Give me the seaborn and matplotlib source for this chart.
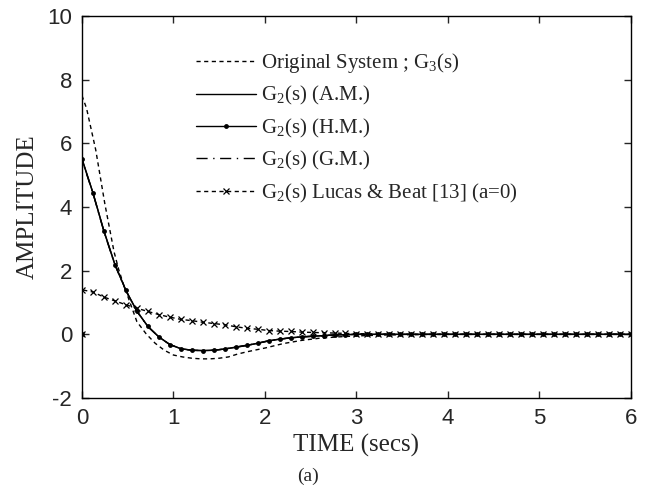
import matplotlib
matplotlib.use('Agg')
import matplotlib.pyplot as plt
import seaborn as sns
import numpy as np

sns.set_style('ticks')
plt.rcParams['font.family'] = ['Liberation Serif', 'DejaVu Serif']
plt.rcParams['mathtext.fontset'] = 'custom'
plt.rcParams['mathtext.rm'] = 'Liberation Serif'
plt.rcParams['mathtext.it'] = 'Liberation Serif:italic'
plt.rcParams['axes.unicode_minus'] = False

# time grid of the reduced models (markers every 0.12 s), leading (0, 0) sample
t_red = [0.0, 0.0, 0.12, 0.24, 0.36, 0.48, 0.60, 0.72, 0.84, 0.96, 1.08, 1.20, 1.32,
         1.44, 1.56, 1.68, 1.80, 1.92, 2.04, 2.16, 2.28, 2.40, 2.52, 2.64, 2.76,
         2.88, 3.00, 3.12, 3.24, 3.36, 3.48, 3.60, 3.72, 3.84, 3.96, 4.08, 4.20,
         4.32, 4.44, 4.56, 4.68, 4.80, 4.92, 5.04, 5.16, 5.28, 5.40, 5.52, 5.64,
         5.76, 5.88, 6.00]

y_hm = [0.0, 5.50, 4.44, 3.24, 2.19, 1.38, 0.73, 0.25, -0.08, -0.32, -0.45, -0.50,
        -0.51, -0.50, -0.46, -0.40, -0.35, -0.28, -0.20, -0.15, -0.11, -0.08, -0.06,
        -0.04, -0.02, -0.01, 0.0, 0.0, 0.0, 0.0, 0.0, 0.0, 0.0, 0.0, 0.0, 0.0, 0.0,
        0.0, 0.0, 0.0, 0.0, 0.0, 0.0, 0.0, 0.0, 0.0, 0.0, 0.0, 0.0, 0.0, 0.0, 0.0]

y_am = [0.0, 5.52, 4.45, 3.25, 2.20, 1.38, 0.73, 0.25, -0.08, -0.32, -0.45, -0.50,
        -0.51, -0.50, -0.46, -0.41, -0.35, -0.28, -0.21, -0.15, -0.11, -0.08, -0.06,
        -0.04, -0.02, -0.01, 0.0, 0.0, 0.0, 0.0, 0.0, 0.0, 0.0, 0.0, 0.0, 0.0, 0.0,
        0.0, 0.0, 0.0, 0.0, 0.0, 0.0, 0.0, 0.0, 0.0, 0.0, 0.0, 0.0, 0.0, 0.0, 0.0]

y_gm = [0.0, 5.48, 4.43, 3.23, 2.18, 1.37, 0.72, 0.24, -0.08, -0.32, -0.45, -0.50,
        -0.51, -0.50, -0.46, -0.40, -0.34, -0.28, -0.20, -0.15, -0.11, -0.08, -0.06,
        -0.04, -0.02, -0.01, 0.0, 0.0, 0.0, 0.0, 0.0, 0.0, 0.0, 0.0, 0.0, 0.0, 0.0,
        0.0, 0.0, 0.0, 0.0, 0.0, 0.0, 0.0, 0.0, 0.0, 0.0, 0.0, 0.0, 0.0, 0.0, 0.0]

y_lucas = [0.0, 1.40, 1.33, 1.17, 1.05, 0.93, 0.82, 0.72, 0.62, 0.54, 0.47, 0.43,
           0.38, 0.34, 0.30, 0.24, 0.19, 0.16, 0.12, 0.10, 0.09, 0.07, 0.06, 0.05,
           0.04, 0.03, 0.02, 0.02, 0.01, 0.01, 0.01, 0.0, 0.0, 0.0, 0.0, 0.0, 0.0,
           0.0, 0.0, 0.0, 0.0, 0.0, 0.0, 0.0, 0.0, 0.0, 0.0, 0.0, 0.0, 0.0, 0.0, 0.0]

# original 3rd order system
t_orig = [0.0, 0.05, 0.1, 0.15, 0.2, 0.25, 0.3, 0.35, 0.4, 0.45, 0.5, 0.6, 0.7,
          0.8, 0.9, 1.0, 1.1, 1.2, 1.3, 1.4, 1.5, 1.6, 1.7, 1.8, 2.0, 2.2, 2.4,
          2.6, 2.8, 3.0, 3.3, 3.6, 4.0, 5.0, 6.0]
y_orig = [7.5, 7.1, 6.45, 5.8, 4.95, 4.1, 3.35, 2.6, 2.05, 1.6, 1.2, 0.4, 0.02,
          -0.28, -0.5, -0.65, -0.71, -0.75, -0.77, -0.77, -0.75, -0.71, -0.62,
          -0.55, -0.43, -0.29, -0.19, -0.12, -0.08, -0.05, -0.02, -0.01, 0.0, 0.0, 0.0]

labels = ['Original System ; G$_\\mathrm{3}$(s)',
          'G$_\\mathrm{2}$(s) (A.M.)',
          'G$_\\mathrm{2}$(s) (H.M.)',
          'G$_\\mathrm{2}$(s) (G.M.)',
          'G$_\\mathrm{2}$(s) Lucas & Beat [13] (a=0)']

fig = plt.figure(figsize=(6.48, 4.88), dpi=100)
ax = fig.add_axes([0.1265, 0.1844, 0.8472, 0.7828])

common = dict(ax=ax, color='k', estimator=None, sort=False, linewidth=1.0)
sns.lineplot(x=t_orig, y=y_orig, label=labels[0], linestyle=(0, (3, 2.5)), **common)
sns.lineplot(x=t_red, y=y_am, label=labels[1], linestyle='-', **common)
sns.lineplot(x=t_red, y=y_hm, label=labels[2], linestyle='-', marker='.',
             markersize=7, markeredgewidth=0, **common)
sns.lineplot(x=t_red, y=y_gm, label=labels[3], linestyle=(0, (8, 4, 1, 4)), **common)
sns.lineplot(x=t_red, y=y_lucas, label=labels[4], linestyle=(0, (3, 2.5)), marker='x',
             markersize=5, markeredgewidth=0.9, markeredgecolor='k', **common)

ax.set_xlim(0, 6)
ax.set_ylim(-2, 10)
ax.set_xticks(range(0, 7))
ax.set_yticks(range(-2, 11, 2))
ax.tick_params(direction='in', length=5, width=1, top=True, right=True,
               labelsize=16, labelfontfamily='Liberation Sans', pad=7)
for s in ax.spines.values():
    s.set_linewidth(1.0)
    s.set_color('k')

ax.set_xlabel('TIME (secs)', fontsize=18, labelpad=4)
ax.set_ylabel('AMPLITUDE', fontsize=18, labelpad=6)

leg = ax.legend(loc='upper left', bbox_to_anchor=(196 / 648, 1 - 51 / 488),
                bbox_transform=fig.transFigure, frameon=False, fontsize=15,
                handlelength=2.9, handletextpad=0.2, labelspacing=0.45,
                borderpad=0, borderaxespad=0)

fig.text(308 / 648, 1 - 476 / 488, '(a)', ha='center', va='center', fontsize=14)

fig.savefig('out.png', dpi=100)
